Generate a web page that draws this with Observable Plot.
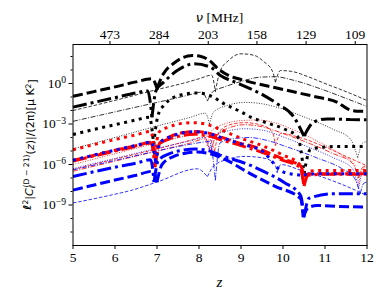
<!DOCTYPE html>
<html><head><meta charset="utf-8">
<script src="https://cdn.jsdelivr.net/npm/d3@7"></script>
<script src="https://cdn.jsdelivr.net/npm/@observablehq/plot@0.6"></script>
<style>body{margin:0;background:#fff}</style>
</head><body><div id="chart"></div>
<script>
// tick values / labels
const xTicks = [5, 6, 7, 8, 9, 10, 11, 12];
const yTickExps = [-9, -6, -3, 0];
const yMinorExps = [-11, -10, -8, -7, -5, -4, -2, -1, 1, 2];
const topTickPos = [5.88, 7.05, 8.22, 9.38, 10.55, 11.72];
const topTickLabels = ["473", "284", "203", "158", "129", "109"];

// curves: [z, log10 value, cusp flag]
const kThickDash = [[5,-0.95],[5.5,-0.6],[6,-0.25],[6.5,0.12],[6.88,0.35],[7.0,-0.35,1],[7.15,0.7],[7.4,1.5],[7.6,1.9],[7.84,2.07],[8.05,2.0],[8.25,1.7],[8.45,1.1],[8.7,0.6],[9.0,0.3],[9.3,0.05],[9.8,-0.3],[10.3,-0.65],[10.8,-1.0],[11.3,-1.4],[11.55,-1.9],[11.75,-2.05],[12,-2.05]];
const kThickDashDot = [[5,-1.75],[5.5,-1.4],[6,-1.05],[6.5,-0.7],[6.78,-0.55],[6.88,-2.5,1],[6.98,-0.5],[7.16,0.1],[7.48,0.96],[7.88,1.46],[8.27,1.21],[8.51,0.59],[8.9,0.05],[9.23,-0.4],[9.5,-0.8],[9.86,-1.5],[10.26,-2.49],[10.5,-3.9,1],[10.73,-2.86],[11.05,-2.62],[11.6,-2.67],[12,-2.69]];
const kThickDot = [[5,-3.78],[5.5,-3.4],[6,-3.05],[6.5,-2.7],[6.82,-2.5],[6.92,-4.5,1],[7.02,-2.4],[7.16,-1.63],[7.56,-0.85],[7.96,-0.7],[8.3,-0.95],[8.6,-1.5],[9.0,-2.1],[9.23,-2.49],[9.6,-2.9],[10.02,-3.36],[10.35,-3.95],[10.5,-6.7,1],[10.65,-4.9],[11.0,-4.7],[11.3,-4.67],[12,-4.67]];
const kThinDash = [[5,-2.0],[6,-1.25],[7,-0.45],[7.6,0.0],[8.0,0.35],[8.3,0.62],[8.39,-0.6,1],[8.5,0.9],[8.7,1.7],[9.0,2.2],[9.3,2.1],[9.55,1.6],[9.75,0.9],[9.82,0.1,1],[9.94,0.96],[10.2,0.9],[10.6,0.5],[11.0,0.0],[11.5,-0.6],[12,-1.26]];
const kThinDashDot = [[5,-2.8],[6,-2.1],[7,-1.4],[7.7,-0.9],[8.07,-0.64],[8.2,-1.3,1],[8.33,-0.6],[8.59,-0.27],[9.0,0.15],[9.46,0.47],[9.8,0.5],[10.3,0.2],[10.9,-0.4],[11.5,-1.1],[12,-1.7]];
const kThinDot = [[5,-4.84],[6,-4.0],[7,-3.15],[7.8,-2.5],[8.15,-2.2],[8.25,-3.0,1],[8.35,-2.1],[8.7,-1.6],[9.1,-1.4],[9.5,-1.5],[10.0,-1.9],[10.6,-2.6],[11.2,-3.4],[11.6,-4.1],[11.78,-5.5,1],[11.9,-4.4],[12,-4.3]];

const rThickDot = [[5,-4.91],[6,-4.15],[6.5,-3.8],[6.85,-3.55],[6.95,-5.3,1],[7.05,-3.6],[7.3,-3.2],[7.6,-2.95],[7.85,-2.9],[8.15,-3.0],[8.5,-3.4],[9.0,-4.05],[9.5,-4.6],[10.0,-5.3],[10.4,-6.0],[10.5,-7.4,1],[10.62,-6.5],[11.0,-6.44],[12,-6.44]];
const rThickDash = [[5,-5.7],[6,-4.95],[6.5,-4.6],[6.87,-4.35],[6.97,-5.8,1],[7.07,-4.4],[7.3,-3.95],[7.6,-3.65],[7.9,-3.55],[8.2,-3.65],[8.5,-3.95],[9.0,-4.45],[9.23,-4.6],[9.7,-5.2],[10.1,-5.7],[10.42,-6.1],[10.5,-6.9,1],[10.6,-6.7],[11.0,-6.69],[12,-6.69]];
const rThickDashDot = [[5,-5.75],[6,-5.0],[6.5,-4.65],[6.86,-4.4],[6.95,-6.2,1],[7.05,-4.5],[7.3,-4.1],[7.6,-3.85],[7.9,-3.75],[8.2,-3.85],[8.5,-4.15],[9.0,-4.6],[9.5,-5.1],[10.0,-5.7],[10.4,-6.2],[10.5,-7.6,1],[10.6,-6.8],[11.0,-6.72],[12,-6.72]];
const rThinDot = [[5,-6.0],[6,-5.2],[7,-4.4],[7.8,-3.8],[8.1,-3.6],[8.2,-4.6,1],[8.3,-3.5],[8.6,-3.0],[9.0,-2.75],[9.4,-2.7],[9.8,-2.9],[10.3,-3.5],[10.9,-4.4],[11.4,-5.3],[11.7,-6.0],[11.8,-7.5,1],[11.9,-6.3],[12,-6.2]];
const rThinDash = [[5,-6.37],[6,-5.6],[7,-4.85],[7.8,-4.2],[8.2,-3.9],[8.37,-5.0,1],[8.5,-3.5],[8.8,-3.0],[9.1,-2.9],[9.5,-3.1],[9.75,-3.6],[9.82,-4.6,1],[9.95,-3.7],[10.4,-4.0],[11.0,-4.7],[11.5,-5.4],[12,-6.1]];
const rThinDashDot = [[5,-6.5],[6,-5.75],[7,-5.0],[7.8,-4.4],[8.15,-4.1],[8.28,-5.2,1],[8.4,-3.9],[8.7,-3.3],[9.1,-3.05],[9.5,-3.2],[10.0,-3.7],[10.6,-4.4],[11.2,-5.2],[11.65,-5.9],[11.8,-7.0,1],[11.9,-6.2],[12,-6.1]];

const bThickDashDot = [[5,-6.89],[6,-6.2],[6.5,-5.9],[6.85,-5.65],[6.93,-7.3,1],[7.03,-5.7],[7.3,-5.2],[7.6,-4.95],[7.9,-4.85],[8.2,-4.95],[8.5,-5.3],[9.23,-6.07],[9.6,-6.6],[10.02,-7.31],[10.42,-8.3],[10.5,-9.9,1],[10.62,-8.5],[11.21,-8.17],[12,-8.17]];
const bThickDash = [[5,-7.9],[6,-7.15],[6.5,-6.8],[6.9,-6.5],[7.0,-7.3,1],[7.12,-6.0],[7.4,-5.4],[7.7,-5.15],[7.96,-5.08],[8.25,-5.2],[8.6,-5.6],[9.23,-6.69],[9.8,-7.6],[10.42,-8.54],[10.48,-9.9,1],[10.6,-9.2],[10.81,-9.04],[11.3,-9.1],[12,-9.16]];
const bThickDot = [[5,-5.68],[6,-4.93],[6.5,-4.58],[6.87,-4.33],[6.97,-5.9,1],[7.07,-4.4],[7.3,-3.97],[7.6,-3.67],[7.9,-3.57],[8.2,-3.67],[8.5,-3.97],[9.0,-4.47],[9.5,-5.0],[10.02,-6.57],[10.5,-6.8,1],[10.6,-6.7],[11.0,-6.69],[12,-6.69]];
const bThinDash = [[5,-8.85],[6,-8.2],[6.37,-7.93],[7,-7.3],[7.96,-6.32],[8.2,-6.9,1],[8.35,-6.1],[8.7,-5.6],[9.1,-5.4],[9.5,-5.5],[9.8,-5.9],[9.86,-6.6,1],[9.95,-6.0],[10.4,-6.4],[11.0,-7.0],[11.5,-7.6],[12,-8.3]];
const bThinDashDot = [[5,-6.4],[6,-5.7],[7,-5.0],[7.8,-4.5],[8.25,-4.3],[8.39,-7.18,1],[8.5,-4.4],[8.8,-4.1],[9.2,-4.0],[9.6,-4.2],[10.1,-4.7],[10.8,-5.5],[11.4,-6.3],[11.7,-7.0],[11.84,-8.17,1],[11.92,-7.4],[12,-7.3]];
const bThinDot = [[5,-6.3],[6,-5.55],[7,-4.8],[7.8,-4.25],[8.15,-4.0],[8.25,-5.0,1],[8.35,-3.9],[8.7,-3.5],[9.1,-3.35],[9.5,-3.45],[10.0,-3.95],[10.6,-4.7],[11.2,-5.5],[11.65,-6.3],[11.8,-7.8,1],[11.9,-6.6],[12,-6.5]];

const TH = 3, TN = 0.8;
const dashStyles = {
  thickDash: {w: TH, d: "10,4"},
  thickDashDot: {w: TH, d: "14,4,3,4"},
  thickDot: {w: TH, d: "3,4.5"},
  thinDash: {w: TN, d: "3.5,1.8"},
  thinDashDot: {w: TN, d: "5,1.5,1,1.5"},
  thinDot: {w: TN, d: "1,1.5"}
};
const curves = [
  [kThinDash, "black", "thinDash"], [kThinDashDot, "black", "thinDashDot"], [kThinDot, "black", "thinDot"],
  [rThinDash, "red", "thinDash"], [rThinDashDot, "red", "thinDashDot"], [rThinDot, "red", "thinDot"],
  [bThinDash, "blue", "thinDash"], [bThinDashDot, "blue", "thinDashDot"], [bThinDot, "blue", "thinDot"],
  [kThickDash, "black", "thickDash"], [kThickDashDot, "black", "thickDashDot"], [kThickDot, "black", "thickDot"],
  [rThickDash, "red", "thickDash"], [rThickDashDot, "red", "thickDashDot"], [rThickDot, "red", "thickDot"],
  [bThickDash, "blue", "thickDash"], [bThickDashDot, "blue", "thickDashDot"], [bThickDot, "blue", "thickDot"]
];

function toRows(pts) {
  const out = []; let seg = 0;
  pts.forEach(p => {
    out.push({z: p[0], v: Math.pow(10, p[1]), seg});
    if (p[2]) { seg++; out.push({z: p[0], v: Math.pow(10, p[1]), seg}); }
  });
  return out;
}

const lineMarks = curves.map(([pts, color, st]) => Plot.line(toRows(pts), {
  x: "z", y: "v", z: "seg", stroke: color, strokeWidth: dashStyles[st].w,
  strokeDasharray: dashStyles[st].d, strokeLinecap: "butt", strokeLinejoin: "miter",
  curve: "monotone-x", clip: true
}));

const supMap = {"0": "0", "-3": "−3", "-6": "−6", "-9": "−9"};
const SERIF = "'Liberation Serif', 'Times New Roman', serif";
const SANS = "'DejaVu Sans', sans-serif";

const chart = Plot.plot({
  width: 388, height: 291,
  marginLeft: 72.5, marginRight: 21.5, marginTop: 44, marginBottom: 46,
  style: {background: "white", color: "black"},
  x: {domain: [5, 12]},
  y: {type: "log", domain: [1e-12, Math.pow(10, 2.89)]},
  marks: [
    ...lineMarks,
    Plot.frame({stroke: "black", strokeWidth: 1}),
    Plot.axisX({anchor: "bottom", ticks: xTicks, tickFormat: d => String(d), label: null, tickSize: 4, tickPadding: 3, fontSize: 13.5}),
    Plot.axisX({anchor: "top", ticks: topTickPos, tickFormat: d => topTickLabels[topTickPos.indexOf(d)], label: null, tickSize: 4, tickPadding: 2, fontSize: 13.5}),
    Plot.axisY({ticks: yTickExps.map(e => Math.pow(10, e)), tickFormat: d => "10^" + Math.round(Math.log10(d)), label: null, tickSize: 4, tickPadding: 3, fontSize: 13.5}),
    Plot.axisY({ticks: yMinorExps.map(e => Math.pow(10, e)), tickFormat: () => "", label: null, tickSize: 2})
  ]
});
document.getElementById("chart").appendChild(chart);
const svg = d3.select(chart);
svg.selectAll("text").attr("font-family", SERIF).style("font-family", SERIF);

// superscript exponents on y tick labels
svg.selectAll('g[aria-label="y-axis tick label"] text').each(function() {
  const s = this.textContent;
  if (!s.includes("^")) return;
  const e = s.split("^")[1];
  const t = d3.select(this); t.text("");
  t.append("tspan").text("10");
  t.append("tspan").attr("dy", "-0.45em").attr("font-size", "0.72em").text(supMap[e] || e);
});

// top label  ν [MHz]
const tl = svg.append("text").attr("x", 219.5).attr("y", 22).attr("text-anchor", "middle")
  .attr("font-size", 13.5).attr("fill", "black").style("font-family", SERIF);
tl.append("tspan").style("font-family", SANS).attr("font-style", "italic").attr("font-size", 13).text("ν");
tl.append("tspan").text(" [MHz]");

// bottom label z
svg.append("text").attr("x", 219.5).attr("y", 287).attr("text-anchor", "middle")
  .attr("font-size", 15).attr("font-style", "italic").attr("fill", "black").style("font-family", SERIF).text("z");

// y label with rich text
const cx = 31, cy = 144.5;
const yl = svg.append("text")
  .attr("transform", `translate(${cx},${cy}) rotate(-90)`)
  .attr("text-anchor", "middle").attr("font-size", 11).attr("fill", "black").style("font-family", SANS);
yl.append("tspan").attr("font-style", "italic").attr("font-weight", "bold").text("ℓ");
yl.append("tspan").attr("font-size", "0.7em").attr("dy", "-0.45em").text("2");
yl.append("tspan").attr("dy", "0.45em").text("|");
yl.append("tspan").attr("font-style", "italic").text("C");
yl.append("tspan").attr("font-size", "0.7em").attr("font-style", "italic").attr("dy", "0.3em").text("ℓ");
yl.append("tspan").attr("font-size", "0.7em").attr("dx", "-0.3em").attr("dy", "-0.8em").text("(D − 21)");
yl.append("tspan").attr("dy", "0.5em").text("(");
yl.append("tspan").attr("font-style", "italic").text("z");
yl.append("tspan").text(")|/(2π)[μ K");
yl.append("tspan").attr("font-size", "0.7em").attr("dy", "-0.45em").text("2");
yl.append("tspan").attr("dy", "0.45em").text("]");
</script>
</body></html>
